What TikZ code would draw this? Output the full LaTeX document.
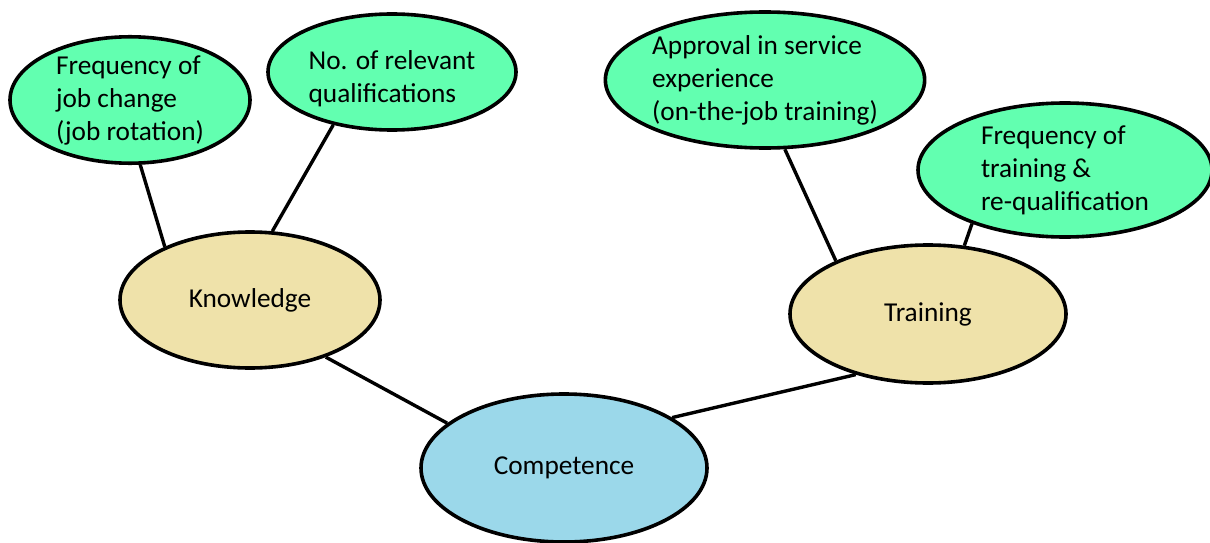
\documentclass[tikz,border=0pt]{standalone}
\usepackage{fontspec}
\setmainfont{Carlito}
\usepackage{tikz}
\usepackage{xcolor}
\usetikzlibrary{positioning, shapes.geometric}
\definecolor{cmgreen}{RGB}{98, 255, 176}
\definecolor{cmtan}{RGB}{239, 226, 170}
\definecolor{cmblue}{RGB}{155, 216, 234}
\tikzset{
    cmnode/.style={ellipse, draw=black, line width=3.6pt, inner sep=0pt, align=left, font=\fontsize{27.3}{33}\selectfont},
    leafnode/.style={cmnode, fill=cmgreen},
    mainnode/.style={cmnode, fill=cmtan},
    rootnode/.style={cmnode, fill=cmblue},
    cmlink/.style={draw=black, line width=3.4pt}
}
\begin{document}
\begin{tikzpicture}[x=1pt, y=-1pt]
    \useasboundingbox[fill=white] (0,0) rectangle (1210,543);
    \node[leafnode, minimum width=240pt, minimum height=120pt] (jobchange) at (130,100) {Frequency of\\job change\\(job rotation)};
    \node[leafnode, minimum width=248pt, minimum height=116pt, text height=66pt] (quals) at (392,72) {No. of relevant\\qualifications};
    \node[leafnode, minimum width=296pt, minimum height=136pt] (approval) at (765,80) {Approval in service\\experience\\(on-the-job training)};
    \node[leafnode, minimum width=294pt, minimum height=134pt] (requal) at (1065,170) {Frequency of\\training \&\\re-qualification};
    \node[mainnode, minimum width=260pt, minimum height=136pt] (knowledge) at (250,300) {Knowledge};
    \node[mainnode, minimum width=276pt, minimum height=138pt] (training) at (928,314) {Training};
    \node[rootnode, minimum width=286pt, minimum height=148pt] (competence) at (564,468) {Competence};
    % connectors
    \draw[cmlink] (jobchange.-81) -- (knowledge.148);
    \draw[cmlink] (quals.-138) -- (knowledge.72);
    \draw[cmlink] (approval.-74) -- (training.150);
    \draw[cmlink] (requal.-150) -- (training.62);
    \draw[cmlink] (knowledge.-37) -- (competence.159);
    \draw[cmlink] (training.-140) -- (competence.25);
\end{tikzpicture}
\end{document}
